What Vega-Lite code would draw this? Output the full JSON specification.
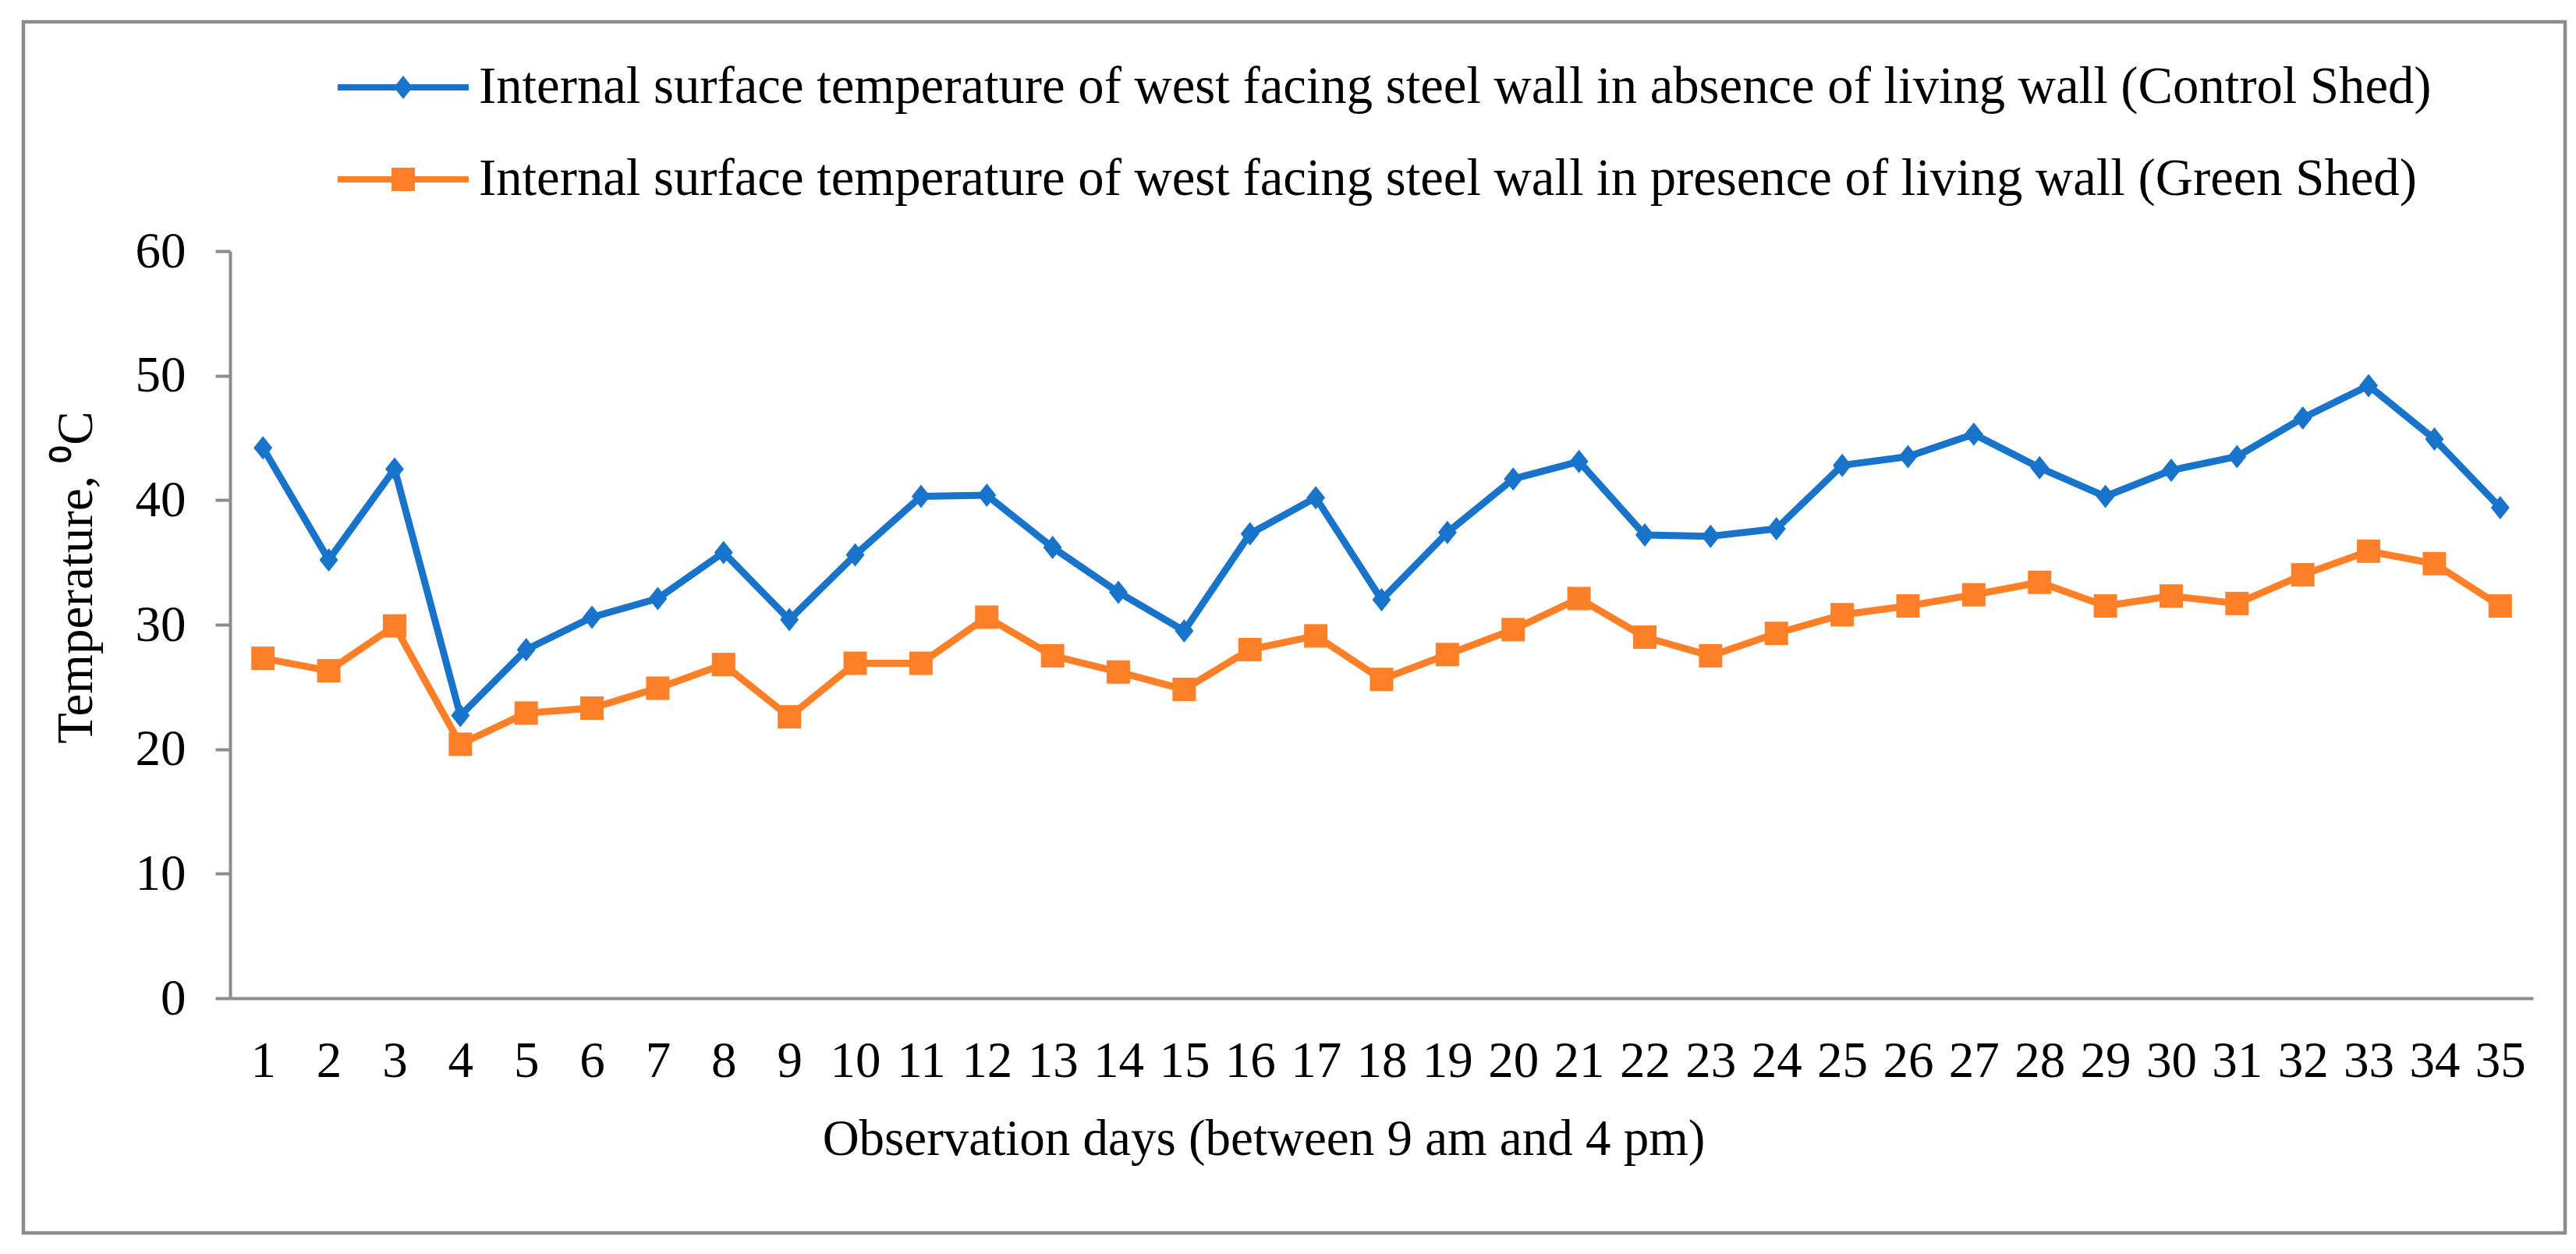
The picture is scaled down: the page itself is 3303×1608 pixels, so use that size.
{
  "$schema": "https://vega.github.io/schema/vega-lite/v6.json",
  "width": 3259,
  "height": 1553,
  "autosize": {"type": "none"},
  "padding": {"left": 30, "top": 28, "right": 14, "bottom": 27},
  "background": "white",
  "config": {
    "view": {"stroke": "#8c8c8c", "strokeWidth": 4.5},
    "font": "Liberation Serif",
    "axis": {
      "labelFont": "Liberation Serif",
      "titleFont": "Liberation Serif",
      "labelColor": "black",
      "titleColor": "black",
      "labelFontSize": 65,
      "titleFontSize": 65,
      "titleFontWeight": "normal",
      "domainColor": "#8c8c8c",
      "domainWidth": 4,
      "tickColor": "#8c8c8c",
      "tickWidth": 4,
      "grid": false
    },
    "legend": {
      "orient": "none",
      "legendX": 403,
      "legendY": 0,
      "padding": 0,
      "labelFont": "Liberation Serif",
      "labelFontSize": 66.7,
      "labelColor": "black",
      "labelLimit": 5000,
      "labelOffset": 13,
      "symbolSize": 28224,
      "symbolStrokeWidth": 0,
      "symbolOpacity": 1,
      "rowPadding": -75
    }
  },
  "data": {
    "values": [
      {"day": 1, "series": "Internal surface temperature of west facing steel wall in absence of living wall (Control Shed)", "temp": 44.2},
      {"day": 2, "series": "Internal surface temperature of west facing steel wall in absence of living wall (Control Shed)", "temp": 35.2},
      {"day": 3, "series": "Internal surface temperature of west facing steel wall in absence of living wall (Control Shed)", "temp": 42.5},
      {"day": 4, "series": "Internal surface temperature of west facing steel wall in absence of living wall (Control Shed)", "temp": 22.7},
      {"day": 5, "series": "Internal surface temperature of west facing steel wall in absence of living wall (Control Shed)", "temp": 28.0},
      {"day": 6, "series": "Internal surface temperature of west facing steel wall in absence of living wall (Control Shed)", "temp": 30.6},
      {"day": 7, "series": "Internal surface temperature of west facing steel wall in absence of living wall (Control Shed)", "temp": 32.1},
      {"day": 8, "series": "Internal surface temperature of west facing steel wall in absence of living wall (Control Shed)", "temp": 35.8},
      {"day": 9, "series": "Internal surface temperature of west facing steel wall in absence of living wall (Control Shed)", "temp": 30.4},
      {"day": 10, "series": "Internal surface temperature of west facing steel wall in absence of living wall (Control Shed)", "temp": 35.6},
      {"day": 11, "series": "Internal surface temperature of west facing steel wall in absence of living wall (Control Shed)", "temp": 40.3},
      {"day": 12, "series": "Internal surface temperature of west facing steel wall in absence of living wall (Control Shed)", "temp": 40.4},
      {"day": 13, "series": "Internal surface temperature of west facing steel wall in absence of living wall (Control Shed)", "temp": 36.2},
      {"day": 14, "series": "Internal surface temperature of west facing steel wall in absence of living wall (Control Shed)", "temp": 32.6},
      {"day": 15, "series": "Internal surface temperature of west facing steel wall in absence of living wall (Control Shed)", "temp": 29.5},
      {"day": 16, "series": "Internal surface temperature of west facing steel wall in absence of living wall (Control Shed)", "temp": 37.3},
      {"day": 17, "series": "Internal surface temperature of west facing steel wall in absence of living wall (Control Shed)", "temp": 40.2},
      {"day": 18, "series": "Internal surface temperature of west facing steel wall in absence of living wall (Control Shed)", "temp": 32.0},
      {"day": 19, "series": "Internal surface temperature of west facing steel wall in absence of living wall (Control Shed)", "temp": 37.4},
      {"day": 20, "series": "Internal surface temperature of west facing steel wall in absence of living wall (Control Shed)", "temp": 41.7},
      {"day": 21, "series": "Internal surface temperature of west facing steel wall in absence of living wall (Control Shed)", "temp": 43.1},
      {"day": 22, "series": "Internal surface temperature of west facing steel wall in absence of living wall (Control Shed)", "temp": 37.2},
      {"day": 23, "series": "Internal surface temperature of west facing steel wall in absence of living wall (Control Shed)", "temp": 37.1},
      {"day": 24, "series": "Internal surface temperature of west facing steel wall in absence of living wall (Control Shed)", "temp": 37.7},
      {"day": 25, "series": "Internal surface temperature of west facing steel wall in absence of living wall (Control Shed)", "temp": 42.8},
      {"day": 26, "series": "Internal surface temperature of west facing steel wall in absence of living wall (Control Shed)", "temp": 43.5},
      {"day": 27, "series": "Internal surface temperature of west facing steel wall in absence of living wall (Control Shed)", "temp": 45.3},
      {"day": 28, "series": "Internal surface temperature of west facing steel wall in absence of living wall (Control Shed)", "temp": 42.6},
      {"day": 29, "series": "Internal surface temperature of west facing steel wall in absence of living wall (Control Shed)", "temp": 40.3},
      {"day": 30, "series": "Internal surface temperature of west facing steel wall in absence of living wall (Control Shed)", "temp": 42.4},
      {"day": 31, "series": "Internal surface temperature of west facing steel wall in absence of living wall (Control Shed)", "temp": 43.5},
      {"day": 32, "series": "Internal surface temperature of west facing steel wall in absence of living wall (Control Shed)", "temp": 46.6},
      {"day": 33, "series": "Internal surface temperature of west facing steel wall in absence of living wall (Control Shed)", "temp": 49.2},
      {"day": 34, "series": "Internal surface temperature of west facing steel wall in absence of living wall (Control Shed)", "temp": 44.9},
      {"day": 35, "series": "Internal surface temperature of west facing steel wall in absence of living wall (Control Shed)", "temp": 39.4},
      {"day": 1, "series": "Internal surface temperature of west facing steel wall in presence of living wall (Green Shed)", "temp": 27.3},
      {"day": 2, "series": "Internal surface temperature of west facing steel wall in presence of living wall (Green Shed)", "temp": 26.3},
      {"day": 3, "series": "Internal surface temperature of west facing steel wall in presence of living wall (Green Shed)", "temp": 29.9},
      {"day": 4, "series": "Internal surface temperature of west facing steel wall in presence of living wall (Green Shed)", "temp": 20.4},
      {"day": 5, "series": "Internal surface temperature of west facing steel wall in presence of living wall (Green Shed)", "temp": 22.9},
      {"day": 6, "series": "Internal surface temperature of west facing steel wall in presence of living wall (Green Shed)", "temp": 23.3},
      {"day": 7, "series": "Internal surface temperature of west facing steel wall in presence of living wall (Green Shed)", "temp": 24.9},
      {"day": 8, "series": "Internal surface temperature of west facing steel wall in presence of living wall (Green Shed)", "temp": 26.8},
      {"day": 9, "series": "Internal surface temperature of west facing steel wall in presence of living wall (Green Shed)", "temp": 22.6},
      {"day": 10, "series": "Internal surface temperature of west facing steel wall in presence of living wall (Green Shed)", "temp": 26.9},
      {"day": 11, "series": "Internal surface temperature of west facing steel wall in presence of living wall (Green Shed)", "temp": 26.9},
      {"day": 12, "series": "Internal surface temperature of west facing steel wall in presence of living wall (Green Shed)", "temp": 30.6},
      {"day": 13, "series": "Internal surface temperature of west facing steel wall in presence of living wall (Green Shed)", "temp": 27.5},
      {"day": 14, "series": "Internal surface temperature of west facing steel wall in presence of living wall (Green Shed)", "temp": 26.2},
      {"day": 15, "series": "Internal surface temperature of west facing steel wall in presence of living wall (Green Shed)", "temp": 24.8},
      {"day": 16, "series": "Internal surface temperature of west facing steel wall in presence of living wall (Green Shed)", "temp": 28.0},
      {"day": 17, "series": "Internal surface temperature of west facing steel wall in presence of living wall (Green Shed)", "temp": 29.1},
      {"day": 18, "series": "Internal surface temperature of west facing steel wall in presence of living wall (Green Shed)", "temp": 25.6},
      {"day": 19, "series": "Internal surface temperature of west facing steel wall in presence of living wall (Green Shed)", "temp": 27.6},
      {"day": 20, "series": "Internal surface temperature of west facing steel wall in presence of living wall (Green Shed)", "temp": 29.6},
      {"day": 21, "series": "Internal surface temperature of west facing steel wall in presence of living wall (Green Shed)", "temp": 32.1},
      {"day": 22, "series": "Internal surface temperature of west facing steel wall in presence of living wall (Green Shed)", "temp": 29.0},
      {"day": 23, "series": "Internal surface temperature of west facing steel wall in presence of living wall (Green Shed)", "temp": 27.5},
      {"day": 24, "series": "Internal surface temperature of west facing steel wall in presence of living wall (Green Shed)", "temp": 29.3},
      {"day": 25, "series": "Internal surface temperature of west facing steel wall in presence of living wall (Green Shed)", "temp": 30.8},
      {"day": 26, "series": "Internal surface temperature of west facing steel wall in presence of living wall (Green Shed)", "temp": 31.5},
      {"day": 27, "series": "Internal surface temperature of west facing steel wall in presence of living wall (Green Shed)", "temp": 32.4},
      {"day": 28, "series": "Internal surface temperature of west facing steel wall in presence of living wall (Green Shed)", "temp": 33.4},
      {"day": 29, "series": "Internal surface temperature of west facing steel wall in presence of living wall (Green Shed)", "temp": 31.5},
      {"day": 30, "series": "Internal surface temperature of west facing steel wall in presence of living wall (Green Shed)", "temp": 32.3},
      {"day": 31, "series": "Internal surface temperature of west facing steel wall in presence of living wall (Green Shed)", "temp": 31.7},
      {"day": 32, "series": "Internal surface temperature of west facing steel wall in presence of living wall (Green Shed)", "temp": 34.0},
      {"day": 33, "series": "Internal surface temperature of west facing steel wall in presence of living wall (Green Shed)", "temp": 35.9},
      {"day": 34, "series": "Internal surface temperature of west facing steel wall in presence of living wall (Green Shed)", "temp": 34.9},
      {"day": 35, "series": "Internal surface temperature of west facing steel wall in presence of living wall (Green Shed)", "temp": 31.5}
    ]
  },
  "encoding": {
    "x": {
      "field": "day",
      "type": "ordinal",
      "scale": {"type": "point", "range": [265, 3218], "padding": 0.5},
      "axis": {
        "offset": -301,
        "labelAngle": 0,
        "ticks": false,
        "tickSize": 0,
        "labelPadding": 100,
        "labelBaseline": "alphabetic",
        "title": "Observation days (between 9 am and 4 pm)",
        "titleX": 1590,
        "titleY": 200,
        "titleBaseline": "alphabetic"
      }
    },
    "y": {
      "field": "temp",
      "type": "quantitative",
      "scale": {"domain": [0, 60], "range": [1252, 294], "nice": false},
      "axis": {
        "offset": -265,
        "values": [0, 10, 20, 30, 40, 50, 60],
        "tickSize": 19,
        "labelPadding": 38,
        "title": "Temperature, ⁰C",
        "titleX": -178,
        "titleY": 712,
        "titleBaseline": "alphabetic"
      }
    },
    "color": {
      "field": "series",
      "type": "nominal",
      "scale": {
        "domain": [
          "Internal surface temperature of west facing steel wall in absence of living wall (Control Shed)",
          "Internal surface temperature of west facing steel wall in presence of living wall (Green Shed)"
        ],
        "range": ["#1874CA", "#FD7F28"]
      },
      "legend": {"title": null}
    }
  },
  "layer": [
    {
      "mark": {"type": "line", "strokeWidth": 9, "strokeJoin": "round", "strokeCap": "round"}
    },
    {
      "transform": [{"filter": "indexof(datum.series, 'Control') >= 0"}],
      "mark": {"type": "point", "filled": true, "opacity": 1, "size": 576, "shape": "M0,-1.25L1,0L0,1.25L-1,0Z"}
    },
    {
      "transform": [{"filter": "indexof(datum.series, 'Green') >= 0"}],
      "mark": {"type": "point", "filled": true, "opacity": 1, "size": 576, "shape": "M-1.25,-1.25H1.25V1.25H-1.25Z"}
    },
    {
      "mark": {"type": "point", "filled": true, "opacity": 0, "size": 10},
      "encoding": {
        "shape": {
          "field": "series",
          "type": "nominal",
          "scale": {
            "domain": [
              "Internal surface temperature of west facing steel wall in absence of living wall (Control Shed)",
              "Internal surface temperature of west facing steel wall in presence of living wall (Green Shed)"
            ],
            "range": [
              "M-1,-0.048H1V0.048H-1ZM0,-0.179L0.143,0L0,0.179L-0.143,0Z",
              "M-1,-0.048H1V0.048H-1ZM-0.179,-0.179H0.179V0.179H-0.179Z"
            ]
          },
          "legend": {"title": null}
        }
      }
    }
  ]
}
